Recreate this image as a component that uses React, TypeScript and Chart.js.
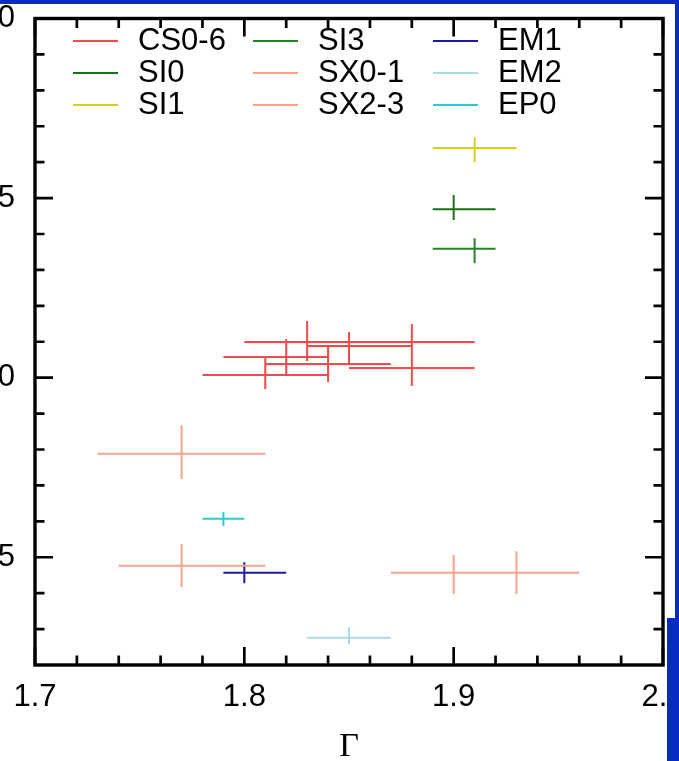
import { useEffect, useRef } from 'react';
import { Chart, registerables } from 'chart.js';

Chart.register(...registerables);

type Pt = { x: number; xlo: number; xhi: number; y: number; ylo: number; yhi: number };

// ---- data (x = photon index Γ, with asymmetric error bars) ----
const CS06: Pt[] = [
  { x: 1.81, xlo: 1.78, xhi: 1.84, y: 1.0075, ylo: 0.9686, yhi: 1.0576 },
  { x: 1.82, xlo: 1.79, xhi: 1.84, y: 1.0576, ylo: 1.0075, yhi: 1.1077 },
  { x: 1.83, xlo: 1.80, xhi: 1.91, y: 1.0994, ylo: 1.0465, yhi: 1.1578 },
  { x: 1.84, xlo: 1.81, xhi: 1.87, y: 1.0381, ylo: 0.9880, yhi: 1.0855 },
  { x: 1.85, xlo: 1.83, xhi: 1.88, y: 1.0883, ylo: 1.0381, yhi: 1.1272 },
  { x: 1.88, xlo: 1.85, xhi: 1.91, y: 1.0270, ylo: 0.9770, yhi: 1.1494 },
];
const SI0: Pt[] = [{ x: 1.90, xlo: 1.89, xhi: 1.92, y: 1.4688, ylo: 1.439, yhi: 1.5086 }];
const SI1: Pt[] = [{ x: 1.91, xlo: 1.89, xhi: 1.93, y: 1.6395, ylo: 1.5997, yhi: 1.6693 }];
const SI3: Pt[] = [{ x: 1.91, xlo: 1.89, xhi: 1.92, y: 1.3591, ylo: 1.3185, yhi: 1.3881 }];
const SX01: Pt[] = [
  { x: 1.77, xlo: 1.73, xhi: 1.81, y: 0.7884, ylo: 0.718, yhi: 0.8675 },
  { x: 1.77, xlo: 1.74, xhi: 1.81, y: 0.4766, ylo: 0.4174, yhi: 0.5362 },
];
const SX23: Pt[] = [
  { x: 1.90, xlo: 1.87, xhi: 1.93, y: 0.4571, ylo: 0.3978, yhi: 0.5064 },
  { x: 1.93, xlo: 1.90, xhi: 1.96, y: 0.4571, ylo: 0.3978, yhi: 0.5167 },
];
const EM1: Pt[] = [{ x: 1.80, xlo: 1.79, xhi: 1.82, y: 0.4571, ylo: 0.4276, yhi: 0.4861 }];
const EM2: Pt[] = [{ x: 1.85, xlo: 1.83, xhi: 1.87, y: 0.2762, ylo: 0.2578, yhi: 0.3051 }];
const EP0: Pt[] = [{ x: 1.79, xlo: 1.78, xhi: 1.80, y: 0.6074, ylo: 0.5871, yhi: 0.6261 }];

const seriesNames = ['CS0-6', 'SI0', 'SI1', 'SI3', 'SX0-1', 'SX2-3', 'EM1', 'EM2', 'EP0'];
const seriesData = [CS06, SI0, SI1, SI3, SX01, SX23, EM1, EM2, EP0];
const seriesColors = ['#f04a4a', '#1e6e1e', '#d2d21a', '#2b7f2b', '#f0a48c', '#f0a48c', '#1c1c96', '#add8e6', '#22d0d0'];

const xTickValues = [1.7, 1.8, 1.9, 2.0];
const xTickLabels = ['1.7', '1.8', '1.9', '2.0'];
const xMinorTicks = [1.72, 1.74, 1.76, 1.78, 1.82, 1.84, 1.86, 1.88, 1.92, 1.94, 1.96, 1.98];
const yTickValues = [0.5, 1.0, 1.5, 2.0];
const yTickLabels = ['0.5', '1.0', '1.5', '2.0'];
const yMinorTicks = [0.3, 0.4, 0.6, 0.7, 0.8, 0.9, 1.1, 1.2, 1.3, 1.4, 1.6, 1.7, 1.8, 1.9];

const SANS = '"Liberation Sans", Arial, sans-serif';
const SERIF = '"Liberation Serif", "Times New Roman", serif';

function segments(pts: Pt[]) {
  const out: { x: number | null; y: number | null }[] = [];
  for (const p of pts) {
    out.push({ x: p.xlo, y: p.y }, { x: p.xhi, y: p.y }, { x: null, y: null });
    out.push({ x: p.x, y: p.ylo }, { x: p.x, y: p.yhi }, { x: null, y: null });
  }
  return out;
}

const framePlugin = {
  id: 'frameTicks',
  afterDraw(chart: any) {
    const { ctx, chartArea: a, scales } = chart;
    const xs = scales.x;
    const ys = scales.y;
    ctx.save();
    ctx.strokeStyle = '#000';
    ctx.lineCap = 'butt';
    ctx.lineWidth = 2.7;
    const vt = (v: number, len: number) => {
      const px = xs.getPixelForValue(v);
      ctx.beginPath();
      ctx.moveTo(px, a.bottom);
      ctx.lineTo(px, a.bottom - len);
      ctx.moveTo(px, a.top);
      ctx.lineTo(px, a.top + len);
      ctx.stroke();
    };
    const ht = (v: number, len: number) => {
      const py = ys.getPixelForValue(v);
      ctx.beginPath();
      ctx.moveTo(a.left, py);
      ctx.lineTo(a.left + len, py);
      ctx.moveTo(a.right, py);
      ctx.lineTo(a.right - len, py);
      ctx.stroke();
    };
    xTickValues.forEach((v) => vt(v, 18));
    xMinorTicks.forEach((v) => vt(v, 9.5));
    yTickValues.forEach((v) => ht(v, 18));
    yMinorTicks.forEach((v) => ht(v, 9.5));
    ctx.lineWidth = 3.4;
    ctx.strokeRect(a.left, a.top, a.right - a.left, a.bottom - a.top);

    // legend (3 columns, column-major)
    ctx.font = `31px ${SANS}`;
    ctx.textBaseline = 'middle';
    ctx.textAlign = 'left';
    seriesNames.forEach((name, i) => {
      const col = Math.floor(i / 3);
      const row = i % 3;
      const x0 = a.left + 38 + col * 180;
      const y = a.top + 22.5 + row * 32;
      ctx.strokeStyle = seriesColors[i];
      ctx.lineWidth = 2;
      ctx.beginPath();
      ctx.moveTo(x0, y);
      ctx.lineTo(x0 + 45, y);
      ctx.stroke();
      ctx.fillStyle = '#000';
      ctx.fillText(name, x0 + 65, y);
    });

    // slide background strips
    ctx.fillStyle = '#0a2ac6';
    ctx.fillRect(0, 0, chart.width, 4);
    ctx.fillRect(chart.width - 4, 0, 4, chart.height);
    ctx.fillRect(chart.width - 12, 618, 12, chart.height - 618);
    ctx.restore();
  },
};

export default function App() {
  const ref = useRef<HTMLCanvasElement | null>(null);
  useEffect(() => {
    if (!ref.current) return;
    const chart = new Chart(ref.current, {
      type: 'line',
      data: {
        datasets: seriesData.map((d, i) => ({
          label: seriesNames[i],
          data: segments(d) as any,
          borderColor: seriesColors[i],
          backgroundColor: seriesColors[i],
          borderWidth: 2,
          pointRadius: 0,
          pointHoverRadius: 0,
          fill: false,
          tension: 0,
          spanGaps: false,
        })),
      },
      options: {
        animation: false,
        responsive: false,
        devicePixelRatio: 1,
        layout: { padding: { top: 18.5, right: 16, left: 0, bottom: 0 } },
        plugins: { legend: { display: false }, tooltip: { enabled: false } },
        events: [],
        scales: {
          x: {
            type: 'linear',
            min: 1.7,
            max: 2.0,
            afterBuildTicks: (s: any) => {
              s.ticks = xTickValues.map((v) => ({ value: v }));
            },
            afterFit: (s: any) => {
              s.height = 96;
              s.paddingLeft = 0;
              s.paddingRight = 0;
            },
            grid: { display: false, drawTicks: false },
            border: { display: false },
            ticks: {
              padding: 14,
              maxRotation: 0,
              minRotation: 0,
              autoSkip: false,
              color: '#000',
              font: { family: SANS, size: 31 },
              callback: (_v: any, i: number) => xTickLabels[i],
            },
            title: {
              display: true,
              text: 'Γ',
              color: '#000',
              padding: 0,
              font: { family: SERIF, size: 34, lineHeight: 0.8 },
            },
          },
          y: {
            type: 'linear',
            min: 0.2,
            max: 2.0,
            afterBuildTicks: (s: any) => {
              s.ticks = yTickValues.map((v) => ({ value: v }));
            },
            afterFit: (s: any) => {
              s.width = 35;
              s.paddingTop = 0;
              s.paddingBottom = 0;
            },
            grid: { display: false, drawTicks: false },
            border: { display: false },
            ticks: {
              padding: 20,
              autoSkip: false,
              color: '#000',
              font: { family: SANS, size: 31 },
              callback: (_v: any, i: number) => yTickLabels[i],
            },
          },
        },
      },
      plugins: [framePlugin],
    });
    return () => chart.destroy();
  }, []);
  return (
    <div style={{ position: 'absolute', left: 0, top: 0, width: 679, height: 761, background: '#fff', overflow: 'hidden' }}>
      <canvas ref={ref} width={679} height={761} style={{ display: 'block', width: 679, height: 761 }} />
    </div>
  );
}
